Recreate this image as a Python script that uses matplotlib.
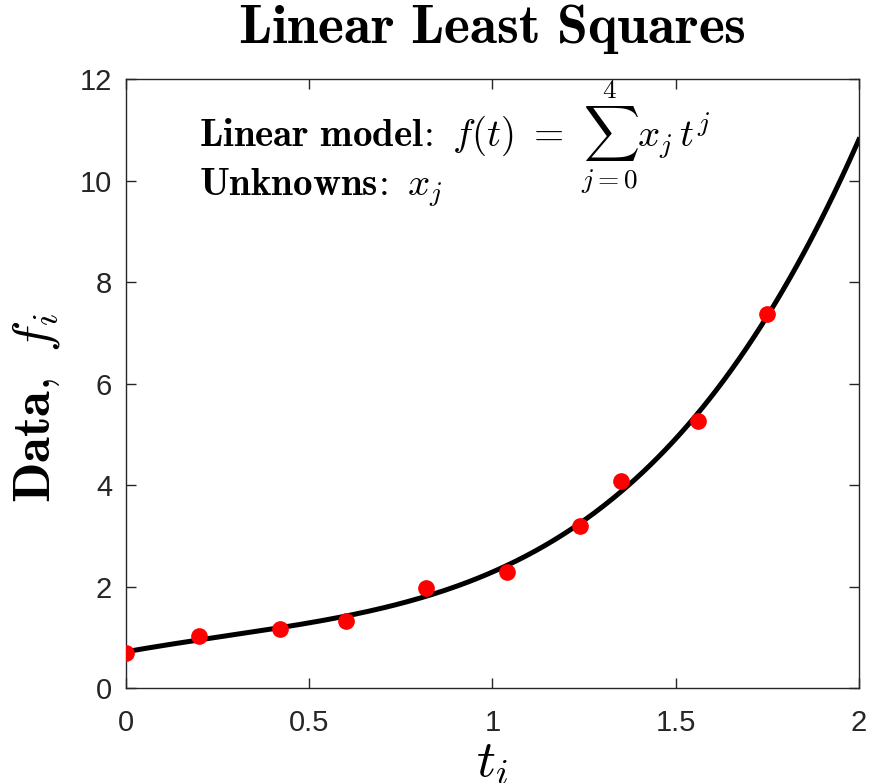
import numpy as np
import matplotlib.pyplot as plt

plt.rcParams['mathtext.fontset'] = 'cm'
plt.rcParams['font.family'] = ['Liberation Sans', 'DejaVu Sans']

# measured data points
t_data = [0.0, 0.2, 0.42, 0.6, 0.82, 1.04, 1.24, 1.35, 1.56, 1.75]
f_data = [0.69, 1.02, 1.16, 1.32, 1.97, 2.29, 3.19, 4.08, 5.26, 7.37]
degree = 4

# least squares fit with monomial basis t^j, j = 0..4
coef = np.polyfit(t_data, f_data, degree)
tt = np.linspace(0, 2, 300)
ff = np.polyval(coef, tt)

fig = plt.figure(figsize=(8.71, 7.83), dpi=100)
ax = fig.add_axes([0.1447, 0.1213, 0.8413, 0.7777])

ax.plot(tt, ff, color='black', lw=3.6, zorder=2)
ax.plot(t_data, f_data, 'o', color='red', ms=11, zorder=3)

ax.set_xlim(0, 2)
ax.set_ylim(0, 12)
ax.set_xticks([0, 0.5, 1, 1.5, 2])
ax.set_xticklabels(['0', '0.5', '1', '1.5', '2'])
ax.set_yticks([0, 2, 4, 6, 8, 10, 12])
ax.tick_params(direction='in', top=True, right=True, labelsize=21,
               length=7, width=1, colors='#262626')
ax.tick_params(axis='x', pad=15)
ax.tick_params(axis='y', pad=10)
for s in ax.spines.values():
    s.set_color('#262626')
    s.set_linewidth(1)

ax.set_title(r'$\mathbf{Linear\ Least\ Squares}$', fontsize=40, pad=26)
ax.set_xlabel(r'$t_i$', fontsize=38, labelpad=0)
ax.set_ylabel(r'$\mathbf{Data,}\ f_i$', fontsize=38)
ax.yaxis.set_label_coords(-0.088, 0.46)

ax.text(0.1, 0.905, r'$\mathbf{Linear\ model\!:}\ f(t)\ =\ \sum_{j=0}^{4} x_j\, t^j$',
        transform=ax.transAxes, fontsize=28, va='center')
ax.text(0.1, 0.822, r'$\mathbf{Unknowns\!:}\ x_j$',
        transform=ax.transAxes, fontsize=28, va='center')

fig.savefig('out.png', dpi=100)
